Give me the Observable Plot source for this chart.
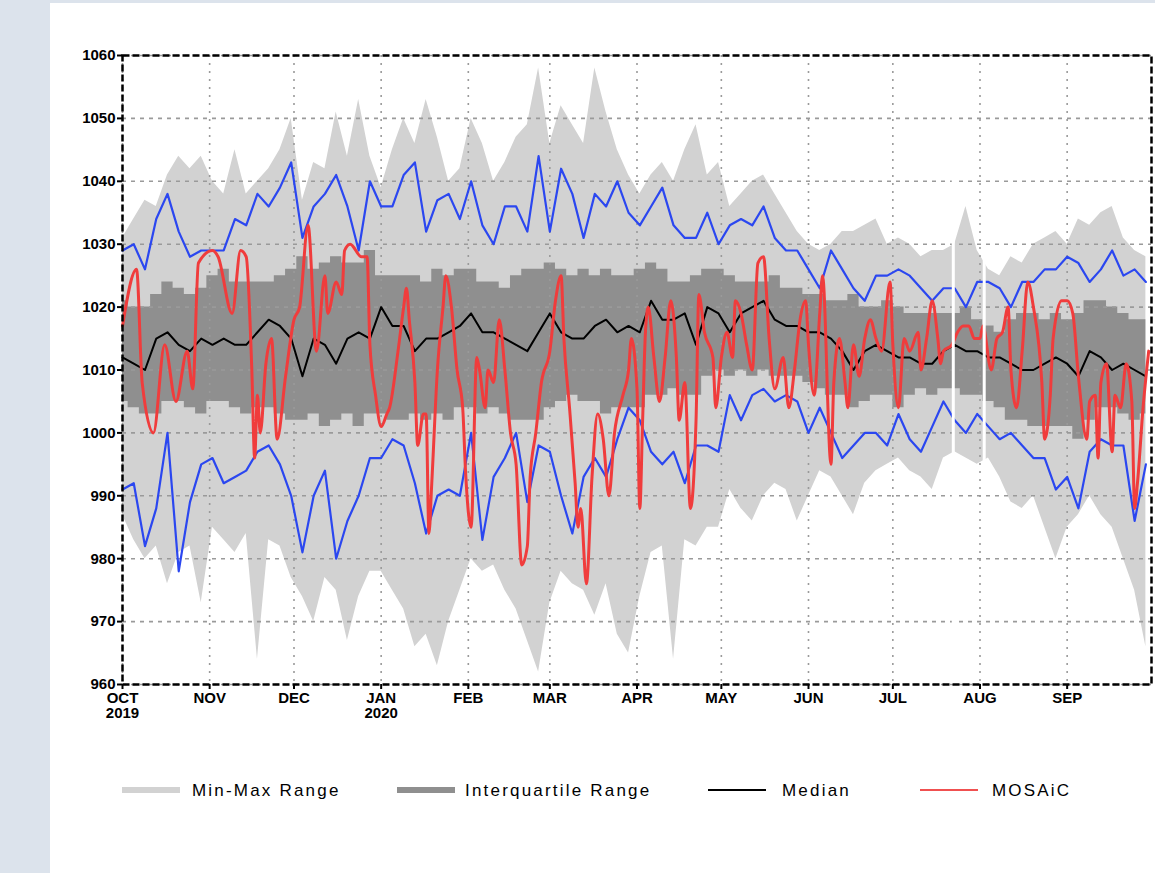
<!DOCTYPE html>
<html><head><meta charset="utf-8">
<script src="https://cdn.jsdelivr.net/npm/d3@7"></script>
<script src="https://cdn.jsdelivr.net/npm/@observablehq/plot@0.6"></script>
<style>
html,body{margin:0;padding:0;background:#dce3ec;width:1155px;height:873px;overflow:hidden;}
#panel{position:absolute;left:50px;top:3px;width:1105px;height:870px;background:#fff;}
#chart{position:absolute;left:0;top:0;}
#legend{position:absolute;left:0;top:0;width:1155px;height:873px;font-family:"Liberation Sans",Arial,sans-serif;font-size:17px;line-height:17px;letter-spacing:2.2px;color:#000;}
.sw{position:absolute;width:58px;}
.lb{position:absolute;top:782px;white-space:nowrap;}
</style></head><body>
<div id="panel"></div>
<div id="chart"></div>
<div id="legend"></div>
<script>
// ---- data (hPa), sampled every 4 days from 1 Oct 2019 ----
const maxP = [1031,1034,1037,1036,1041,1044,1042,1044,1040,1038,1045,1038,1040,1042,1045,1050,
1037,1043,1042,1051,1044,1053,1044,1039,1045,1050,1046,1053,1047,1040,1042,
1050,1046,1040,1043,1047,1049,1058,1046,1052,1049,1046,1058,1051,1045,1041,1038,
1041,1043,1040,1045,1049,1041,1043,1036,1038,1040,1041,1038,1035,1032,1030,
1029,1030,1032,1032,1033,1034,1030,1031,1030,1028,1029,1029,1030,1036,1029,
1026,1025,1028,1027,1030,1031,1032,1030,1034,1033,1035,1036,1031,1029,1028];
const q3P = [1021,1020,1020,1022,1024,1023,1022,1023,1025,1026,1024,1024,1024,1024,1025,1026,
1028,1026,1027,1028,1027,1027,1029,1025,1025,1025,1025,1024,1026,1025,1026,
1026,1024,1024,1023,1025,1026,1026,1027,1026,1025,1026,1025,1026,1025,1025,1026,
1027,1026,1024,1024,1025,1026,1026,1025,1024,1024,1024,1025,1023,1023,1022,
1022,1021,1021,1022,1020,1020,1021,1020,1019,1019,1019,1019,1019,1020,1018,
1017,1016,1018,1019,1019,1018,1019,1018,1019,1021,1021,1020,1019,1018,1018];
const q1P = [1005,1004,1003,1003,1005,1005,1004,1003,1005,1005,1004,1003,1004,1004,1003,1002,
1002,1003,1001,1002,1003,1001,1003,1003,1002,1002,1003,1002,1003,1002,1004,
1004,1003,1004,1003,1002,1002,1002,1004,1005,1006,1005,1005,1003,1004,1004,1004,
1006,1006,1007,1006,1006,1009,1010,1009,1010,1009,1010,1009,1009,1009,1008,
1007,1006,1006,1004,1005,1006,1006,1004,1006,1007,1006,1007,1007,1006,1006,
1005,1004,1002,1002,1001,1001,1001,1001,999,1002,1004,1004,1003,1002,1003];
const minP = [987,983,980,982,976,981,982,973,985,983,981,984,964,983,982,977,
974,970,977,975,967,974,978,978,975,972,966,968,963,970,975,
980,978,979,975,972,967,962,973,978,976,975,971,976,968,965,974,
981,982,964,983,982,985,985,991,988,986,990,992,991,986,990,
994,993,990,987,992,994,995,996,994,993,991,996,997,996,995,
996,993,989,988,990,985,980,985,987,990,987,985,980,975,966];
const upperBlue = [1029,1030,1026,1034,1038,1032,1028,1029,1029,1029,1034,1033,1038,1036,1039,1043,
1031,1036,1038,1041,1036,1029,1040,1036,1036,1041,1043,1032,1037,1038,1034,
1040,1033,1030,1036,1036,1032,1044,1032,1042,1038,1031,1038,1036,1040,1035,1033,
1036,1039,1033,1031,1031,1035,1030,1033,1034,1033,1036,1031,1029,1029,1026,
1023,1029,1026,1023,1021,1025,1025,1026,1025,1023,1021,1023,1023,1020,1024,
1024,1023,1020,1024,1024,1026,1026,1028,1027,1024,1026,1029,1025,1026,1024];
const lowerBlue = [991,992,982,988,1000,978,989,995,996,992,993,994,997,998,995,990,
981,990,994,980,986,990,996,996,999,998,992,984,990,991,990,
1000,983,993,996,1000,989,998,997,990,984,993,996,993,999,1004,1002,
997,995,997,992,998,998,997,1006,1002,1006,1007,1005,1006,1005,1000,
1004,1000,996,998,1000,1000,998,1003,999,997,1001,1005,1002,1000,1003,
1001,999,1000,998,996,996,991,993,988,997,999,998,998,986,995];
const median = [1012,1011,1010,1015,1016,1014,1013,1015,1014,1015,1014,1014,1016,1018,1017,1015,
1009,1015,1014,1011,1015,1016,1015,1020,1017,1017,1013,1015,1015,1016,1017,
1019,1016,1016,1015,1014,1013,1016,1019,1016,1015,1015,1017,1018,1016,1017,1016,
1021,1018,1018,1019,1014,1020,1019,1016,1019,1020,1021,1018,1017,1017,1016,
1016,1015,1013,1010,1013,1014,1013,1012,1012,1011,1011,1013,1014,1013,1013,
1012,1012,1011,1010,1010,1011,1012,1011,1009,1013,1012,1010,1011,1010,1009];
// MOSAiC: day offset from 1 Oct 2019, value (hPa)
const mosaicDay = [0,5,7,11,15,19,23,25,27,32,34,39,42,44,46,47,48,49,51,53,55,58,61,63,66,69,72,73,76,78,
79,81,85,87,88,90,92,94,95,98,100,101,102,104,105,107,108,109,110,112,114,115,117,119,121,122,124,126,127,129,
130,132,134,136,138,140,142,144,145,147,149,152,154,156,157,159,161,162,163,165,167,169,171,173,175,178,180,181,183,184,
185,186,187,189,191,193,195,197,198,200,202,204,205,207,210,211,213,215,217,218,220,222,224,226,228,230,232,235,237,239,
241,243,244,246,248,249,252,253,255,257,258,260,262,264,266,268,270,273,274,276,278,280,283,284,286,288,290,291,292,295,
297,299,301,303,305,306,309,311,313,315,316,318,320,322,324,327,328,330,331,334,336,338,340,343,344,346,347,348,350,352,
353,355,357,359,360,361,363,365];
const mosaicVal = [1017,1026,1008,1000,1014,1005,1013,1007,1027,1029,1028,1019,1029,1028,1010,996,1006,1000,1011,1015,
999,1009,1018,1020,1033,1013,1025,1019,1024,1022,1029,1030,1028,1028,1014,1006,1001,1003,1004,1013,
1020,1023,1018,1008,998,1003,1003,984,992,1010,1020,1025,1020,1010,1004,994,985,1012,1010,1004,
1010,1008,1018,1010,1000,995,979,982,993,1000,1008,1013,1021,1025,1015,1004,992,985,988,976,
993,1003,999,990,1000,1006,1010,1015,1007,988,1002,1016,1020,1012,1005,1012,1021,1012,1002,1008,
988,1002,1022,1016,1012,1004,1012,1016,1012,1021,1019,1014,1010,1027,1028,1015,1007,1012,1004,1010,
1018,1021,1014,1006,1019,1025,995,1008,1015,1008,1004,1014,1009,1015,1018,1015,1013,1024,1014,1004,
1015,1013,1016,1010,1015,1021,1015,1011,1013,1014,1016,1017,1017,1015,1015,1017,1010,1015,1016,1020,
1010,1004,1013,1024,1020,1008,999,1006,1015,1021,1021,1019,1009,999,1005,1006,996,1008,1011,997,
1006,1004,1011,1005,988,992,1004,1013];
const gapDays = ["2020-07-22","2020-08-02"];
const yTicks = [960,970,980,990,1000,1010,1020,1030,1040,1050,1060];
const monthNames = ["JAN","FEB","MAR","APR","MAY","JUN","JUL","AUG","SEP","OCT","NOV","DEC"];
const legendItems = ["Min-Max Range","Interquartile Range","Median","MOSAiC"];

// ---- build ----
const start = new Date(Date.UTC(2019,9,1));
const end = new Date(Date.UTC(2020,9,1));
const dates = d3.utcDay.range(start, end, 4);
const rows = dates.map((d,i)=>({date:d,max:maxP[i],q3:q3P[i],q1:q1P[i],min:minP[i],ub:upperBlue[i],lb:lowerBlue[i],med:median[i]}));
const redRows = mosaicDay.map((d,i)=>({date:d3.utcDay.offset(start,d),v:mosaicVal[i]}));
const months = d3.utcMonth.range(start, end);
const gaps = gapDays.map(s=>new Date(s+"T12:00:00Z"));
const fmtMonth = d => {
  const m = monthNames[d.getUTCMonth()];
  if (d.getUTCMonth()===9 && d.getUTCFullYear()===2019) return m+"\n2019";
  if (d.getUTCMonth()===0) return m+"\n"+d.getUTCFullYear();
  return m;
};
const gridStyle = {stroke:"#9a9a9a", strokeOpacity:1, strokeWidth:1.6};

const chart = Plot.plot({
  width:1155, height:730,
  marginLeft:122, marginRight:4, marginTop:55, marginBottom:46,
  style:{background:"transparent", color:"#000", fontFamily:"'Liberation Sans', Arial, sans-serif"},
  x:{type:"utc", domain:[start,end], label:null},
  y:{domain:[960,1060], label:null},
  marks:[
    Plot.areaY(rows,{x:"date", y1:"min", y2:"max", fill:"#d2d2d2"}),
    Plot.areaY(rows,{x:"date", y1:"q1", y2:"q3", fill:"#8f8f8f", curve:"step"}),
    Plot.gridY(yTicks,{...gridStyle, strokeDasharray:"4,5"}),
    Plot.gridX(months,{...gridStyle, strokeDasharray:"2,6"}),
    Plot.lineY(rows,{x:"date", y:"ub", stroke:"#2b47f0", strokeWidth:2.2}),
    Plot.lineY(rows,{x:"date", y:"lb", stroke:"#2b47f0", strokeWidth:2.2}),
    Plot.lineY(rows,{x:"date", y:"med", stroke:"#000", strokeWidth:2}),
    Plot.lineY(redRows,{x:"date", y:"v", stroke:"#f03c3c", strokeWidth:3, curve:"monotone-x"}),
    Plot.ruleX(gaps,{stroke:"#fff", strokeWidth:3}),
    Plot.frame({stroke:"#000", strokeWidth:2.5, strokeDasharray:"7,3"}),
    Plot.axisY(yTicks,{tickSize:5, tickPadding:2, fontSize:15, fontWeight:"bold", tickFormat:d=>String(d), strokeWidth:2}),
    Plot.axisX(months,{tickSize:5, tickPadding:3, fontSize:15, fontWeight:"bold", tickFormat:fmtMonth, lineHeight:1.0, strokeWidth:2})
  ]
});
document.getElementById("chart").appendChild(chart);

// ---- legend ----
const lg = document.getElementById("legend");
const swatches = [
  {left:122, text:192, color:"#d2d2d2", h:6},
  {left:397, text:465, color:"#8f8f8f", h:6},
  {left:708, text:782, color:"#000", h:2},
  {left:920, text:992, color:"#f05050", h:2}
];
legendItems.forEach((t,i)=>{
  const s = swatches[i];
  const sw = document.createElement("div");
  sw.className = "sw";
  sw.style.left = s.left+"px";
  sw.style.top = (790 - s.h/2)+"px";
  sw.style.height = s.h+"px";
  sw.style.background = s.color;
  lg.appendChild(sw);
  const lb = document.createElement("div");
  lb.className = "lb";
  lb.style.left = s.text+"px";
  lb.textContent = t;
  lg.appendChild(lb);
});
</script>
</body></html>
